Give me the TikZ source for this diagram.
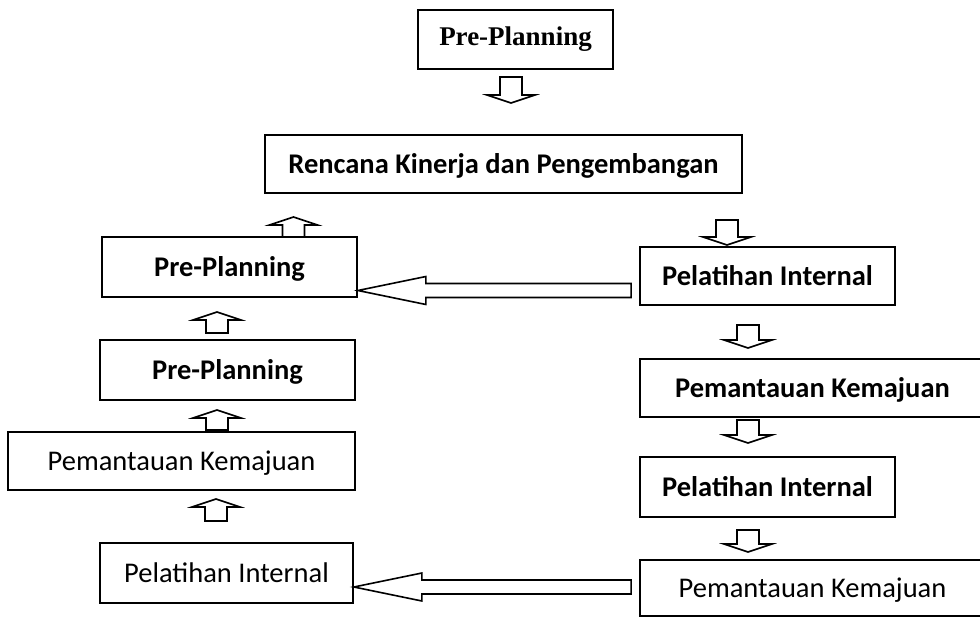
\documentclass[tikz,border=0pt]{standalone}
\usepackage{fontspec}
\setmainfont{Liberation Serif}
\newfontfamily\calibri{Carlito}
\usetikzlibrary{calc}

\tikzset{
  box/.style={draw=black, line width=1.8pt, inner sep=0pt, anchor=center, text=black},
  serifbox/.style={box, font=\fontsize{27}{30}\selectfont\bfseries},
  sansbox/.style={box, text height=19.5pt, text depth=0pt},
  boldbox/.style={sansbox, font=\calibri\fontsize{28.5}{32}\selectfont\bfseries},
  plainbox/.style={sansbox, font=\calibri\fontsize{28.5}{32}\selectfont},
  blockarrow/.style={draw=black, line width=1.6pt, fill=white, line join=miter},
}

% small hollow block arrow, vertical: #1 tail, #2 tip, #3 offset of the head base from the tip
\newcommand\vblock[3]{%
  \draw[blockarrow] let \p1=(#1), \p2=(#2) in
    ({\x1-11pt},\y1) -- ({\x1-11pt},{\y2+(#3pt)}) -- ({\x1-24pt},{\y2+(#3pt)}) -- (\x1,\y2)
    -- ({\x1+24pt},{\y2+(#3pt)}) -- ({\x1+11pt},{\y2+(#3pt)}) -- ({\x1+11pt},\y1) -- cycle;}

% long hollow block arrow pointing left: #1 tail, #2 tip
\newcommand\hblock[2]{%
  \draw[blockarrow] let \p1=(#1), \p2=(#2) in
    (\x1,{\y1-7pt}) -- ({\x2+68pt},{\y1-7pt}) -- ({\x2+68pt},{\y2-14pt}) -- (\x2,\y2)
    -- ({\x2+68pt},{\y2+14pt}) -- ({\x2+68pt},{\y1+7pt}) -- (\x1,{\y1+7pt}) -- cycle;}

\begin{document}
\begin{tikzpicture}[x=1pt,y=-1pt]
\useasboundingbox (0,0) rectangle (980,618);
\fill[white] (0,0) rectangle (980,618);

% boxes
\node[serifbox, minimum width=195pt, minimum height=59pt] (top) at (515.5,39.5) {Pre-Planning};
\node[boldbox, minimum width=477pt, minimum height=58pt] (ren) at (503.5,164) {Rencana Kinerja dan Pengembangan};

\node[boldbox, minimum width=255pt, minimum height=60pt] (ppa) at (229.5,267) {Pre-Planning};
\node[boldbox, minimum width=255pt, minimum height=60pt] (ppb) at (227.5,370) {Pre-Planning};
\node[plainbox, minimum width=347pt, minimum height=58pt] (pkl) at (181.5,461) {Pemantauan Kemajuan};
\node[plainbox, minimum width=253pt, minimum height=60pt] (pil) at (226.5,573) {Pelatihan Internal};

\node[boldbox, minimum width=255pt, minimum height=58pt] (pira) at (767.5,276) {Pelatihan Internal};
\node[boldbox, minimum width=345pt, minimum height=58pt] (pkra) at (812.5,388) {Pemantauan Kemajuan};
\node[boldbox, minimum width=255pt, minimum height=60pt] (pirb) at (767.5,487) {Pelatihan Internal};
\node[plainbox, minimum width=345pt, minimum height=56pt] (pkrb) at (812.5,588) {Pemantauan Kemajuan};

% ends of the small arrows
\coordinate (a0s) at (511,77);   \coordinate (a0e) at (511,103);
\coordinate (a1s) at (293.5,237); \coordinate (a1e) at (293.5,217);
\coordinate (a2s) at (217,333);  \coordinate (a2e) at (217,312);
\coordinate (a3s) at (217,430);  \coordinate (a3e) at (217,410);
\coordinate (a4s) at (216,521);  \coordinate (a4e) at (216,499);
\coordinate (b1s) at (727,220);  \coordinate (b1e) at (727,245);
\coordinate (b2s) at (748,325);  \coordinate (b2e) at (748,348);
\coordinate (b3s) at (748,420);  \coordinate (b3e) at (748,443);
\coordinate (b4s) at (748,530);  \coordinate (b4e) at (748,552);

% pointing down
\vblock{a0s}{a0e}{8}
\vblock{b1s}{b1e}{8}
\vblock{b2s}{b2e}{8}
\vblock{b3s}{b3e}{8}
\vblock{b4s}{b4e}{8}
% pointing up
\vblock{a1s}{a1e}{-8}
\vblock{a2s}{a2e}{-8}
\vblock{a3s}{a3e}{-8}
\vblock{a4s}{a4e}{-8}

% long arrows back to the left column
\coordinate (h1s) at ($(pira.west)+(-8,14.5)$);
\coordinate (h1e) at ($(ppa.east)+(0,23.5)$);
\coordinate (h2s) at ($(pkrb.west)+(-8,-1)$);
\coordinate (h2e) at ($(pil.east)+(0,14)$);
\hblock{h1s}{h1e}
\hblock{h2s}{h2e}
\end{tikzpicture}
\end{document}
